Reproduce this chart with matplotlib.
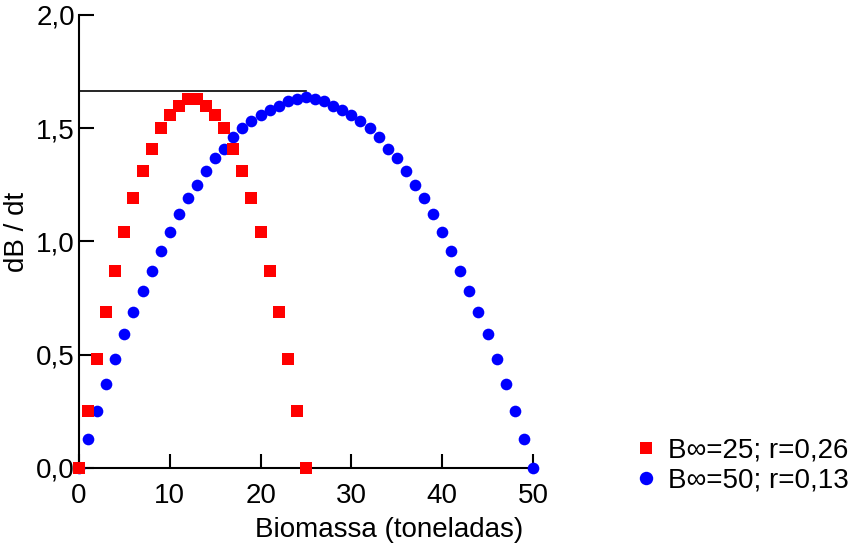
import numpy as np
import matplotlib
matplotlib.use('Agg')
import matplotlib.pyplot as plt
from matplotlib.ticker import FuncFormatter

plt.rcParams['font.family'] = ['Liberation Sans', 'DejaVu Sans']

# biomassa (t) e taxa de crescimento dB/dt
B_25 = list(range(0, 26))
dBdt_25 = [0.0, 0.25, 0.48, 0.69, 0.87, 1.04, 1.19, 1.31, 1.41, 1.50, 1.56, 1.60, 1.63,
           1.63, 1.60, 1.56, 1.50, 1.41, 1.31, 1.19, 1.04, 0.87, 0.69, 0.48, 0.25, 0.0]

B_50 = list(range(0, 51))
dBdt_50 = [0.0, 0.13, 0.25, 0.37, 0.48, 0.59, 0.69, 0.78, 0.87, 0.96, 1.04, 1.12, 1.19,
           1.25, 1.31, 1.37, 1.41, 1.46, 1.50, 1.53, 1.56, 1.58, 1.60, 1.62, 1.63, 1.64,
           1.63, 1.62, 1.60, 1.58, 1.56, 1.53, 1.50, 1.46, 1.41, 1.37, 1.31, 1.25, 1.19,
           1.12, 1.04, 0.96, 0.87, 0.78, 0.69, 0.59, 0.48, 0.37, 0.25, 0.13, 0.0]

labels = ['B\u221e=25; r=0,26', 'B\u221e=50; r=0,13']
msy_level = 1.665
msy_B = [0, 25]

fig = plt.figure(figsize=(8.68, 5.45), dpi=100)
ax = fig.add_axes([0.091, 0.1413, 0.523, 0.8312])

ax.plot(msy_B, [msy_level, msy_level], color='black', lw=1.2, zorder=2)
ax.plot(B_25, dBdt_25, 's', color='#ff0000', markersize=8.0, markeredgewidth=0,
        clip_on=False, zorder=4, label=labels[0])
ax.plot(B_50, dBdt_50, 'o', color='#0000ff', markersize=8.4, markeredgewidth=0,
        clip_on=False, zorder=3, label=labels[1])

ax.set_xlim(0, 50)
ax.set_ylim(0, 2.0)
ax.set_xticks([0, 10, 20, 30, 40, 50])
ax.set_yticks([0, 0.5, 1.0, 1.5, 2.0])
ax.yaxis.set_major_formatter(FuncFormatter(lambda v, p: f'{v:.1f}'.replace('.', ',')))

for s in ['top', 'right']:
    ax.spines[s].set_visible(False)
for s in ['left', 'bottom']:
    ax.spines[s].set_linewidth(1.5)
ax.tick_params(axis='y', direction='in', length=11, width=1.5, labelsize=20, pad=3)
ax.tick_params(axis='x', direction='in', length=10, width=1.5, labelsize=20, pad=11)

ax.set_xlabel('Biomassa (toneladas)', fontsize=20)
ax.xaxis.set_label_coords(0.683, -0.108)
ax.set_ylabel('dB / dt', fontsize=20)
ax.yaxis.set_label_coords(-0.107, 0.52)

fig.legend(loc='upper left', bbox_to_anchor=(0.715, 0.218), frameon=False,
           fontsize=20, handletextpad=0.3, labelspacing=0.15, handlelength=1.0,
           borderaxespad=0, markerscale=1.15)

fig.savefig('out.png', dpi=100)
